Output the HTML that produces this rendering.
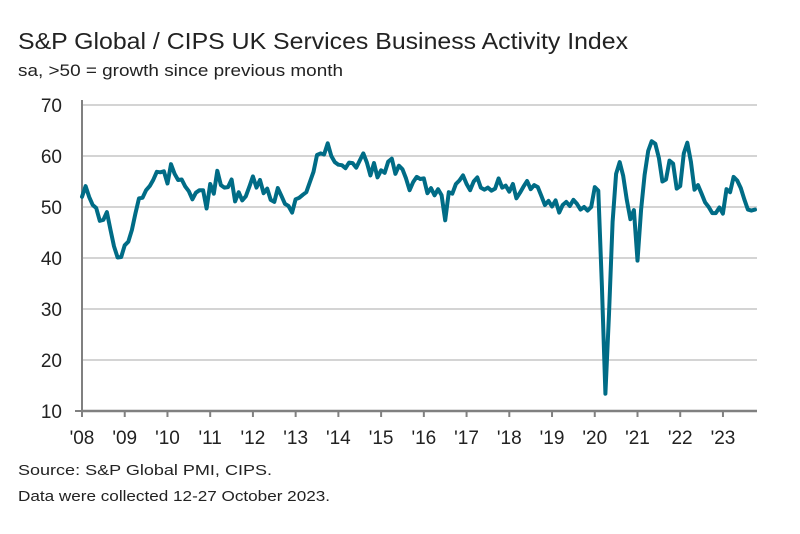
<!DOCTYPE html>
<html><head><meta charset="utf-8"><style>
body{margin:0;background:#fff;font-family:"Liberation Sans",sans-serif;}
#wrap{position:relative;width:800px;height:534px;overflow:hidden;}
</style></head><body>
<div id="wrap">
<svg id="chart" width="800" height="534">
<text x="18" y="49" font-size="23" fill="#222" textLength="610" lengthAdjust="spacingAndGlyphs">S&amp;P Global / CIPS UK Services Business Activity Index</text>
<text x="18" y="76" font-size="17" fill="#222" textLength="325" lengthAdjust="spacingAndGlyphs">sa, &gt;50 = growth since previous month</text>
<text x="18" y="475" font-size="15" fill="#222" textLength="254" lengthAdjust="spacingAndGlyphs">Source: S&amp;P Global PMI, CIPS.</text>
<text x="18" y="501" font-size="15" fill="#222" textLength="312" lengthAdjust="spacingAndGlyphs">Data were collected 12-27 October 2023.</text>
<g id="grid"></g><g id="axes"></g><g id="series"></g>
</svg>
</div>
<script>
const yTicks=[10,20,30,40,50,60,70];
const yearLabels=["'08","'09","'10","'11","'12","'13","'14","'15","'16","'17","'18","'19","'20","'21","'22","'23"];
const v2008=[52.0,54.1,52.0,50.4,49.8,47.3,47.5,49.0,45.5,42.3,40.1,40.2];
const v2009=[42.5,43.2,45.5,48.7,51.7,51.8,53.3,54.1,55.3,56.9,56.8,57.0];
const v2010=[54.6,58.4,56.5,55.3,55.4,54.0,53.1,51.5,52.8,53.3,53.3,49.7];
const v2011=[54.5,52.6,57.1,54.3,53.8,53.9,55.4,51.1,52.9,51.3,52.1,54.0];
const v2012=[56.0,53.8,55.3,52.7,53.6,51.4,51.0,53.7,52.2,50.6,50.2,48.9];
const v2013=[51.5,51.8,52.4,52.9,54.9,56.9,60.2,60.5,60.3,62.5,60.0,58.8];
const v2014=[58.3,58.2,57.6,58.7,58.6,57.7,59.1,60.5,58.7,56.2,58.6,55.8];
const v2015=[57.2,56.7,58.9,59.5,56.5,58.1,57.4,55.6,53.3,54.9,55.9,55.5];
const v2016=[55.6,52.7,53.7,52.3,53.5,52.3,47.4,52.9,52.6,54.5,55.2,56.2];
const v2017=[54.5,53.3,55.0,55.8,53.8,53.4,53.8,53.2,53.6,55.6,53.8,54.2];
const v2018=[53.0,54.5,51.7,52.8,54.0,55.1,53.5,54.3,53.9,52.2,50.4,51.2];
const v2019=[50.1,51.3,48.9,50.4,51.0,50.2,51.4,50.6,49.5,50.0,49.3,50.0];
const v2020=[53.9,53.2,34.5,13.4,29.0,47.1,56.5,58.8,56.1,51.4,47.6,49.4];
const v2021=[39.5,49.5,56.3,61.0,62.9,62.4,59.6,55.0,55.4,59.1,58.5,53.6];
const v2022=[54.1,60.5,62.6,58.9,53.4,54.3,52.6,50.9,50.0,48.8,48.8,49.9];
const v2023=[48.7,53.5,52.9,55.9,55.2,53.7,51.5,49.5,49.3,49.5];
const values=[].concat(v2008,v2009,v2010,v2011,v2012,v2013,v2014,v2015,v2016,v2017,v2018,v2019,v2020,v2021,v2022,v2023);
const NS="http://www.w3.org/2000/svg";
const X0=82,X1=757,Y0=411,Y1=105,perMonth=42.73/12;
const xm=i=>X0+i*perMonth;
const ys=v=>Y0-(v-10)/60*(Y0-Y1);
function mk(t,a,p){const e=document.createElementNS(NS,t);for(const k in a)e.setAttribute(k,a[k]);p.appendChild(e);return e;}
const grid=document.getElementById('grid'),axes=document.getElementById('axes'),series=document.getElementById('series');
yTicks.forEach(t=>{
  if(t>10){const l=mk('line',{x1:X0,x2:X1,y1:ys(t),y2:ys(t),stroke:'#d4d4d4','stroke-width':2},grid);
  
  }
  const tx=mk('text',{x:62,y:ys(t)+7,'font-size':19,'text-anchor':'end',fill:'#222'},axes);
  tx.textContent=t;
  
  
});
const ya=mk('line',{x1:X0,x2:X0,y1:Y1-5,y2:Y0,stroke:'#808080','stroke-width':2},axes);


const yt=mk('line',{x1:75,x2:X0,y1:Y0,y2:Y0,stroke:'#808080','stroke-width':2},axes);


const xa=mk('line',{x1:X0,x2:X1,y1:Y0,y2:Y0,stroke:'#808080','stroke-width':2.5},axes);


yearLabels.forEach((lab,i)=>{
  const x=xm(i*12);
  const tk=mk('line',{x1:x,x2:x,y1:Y0,y2:Y0+6,stroke:'#808080','stroke-width':2},axes);
  
  
  const tx=mk('text',{x:x,y:444,'font-size':19,'text-anchor':'middle',fill:'#222'},axes);
  tx.textContent=lab;
  
  
});
const pts=values.map((v,i)=>xm(i).toFixed(1)+','+ys(v).toFixed(1)).join(' ');
const pl=mk('polyline',{points:pts,fill:'none',stroke:'#006c86','stroke-width':4,'stroke-linejoin':'round','stroke-linecap':'round'},series);


</script>
</body></html>
